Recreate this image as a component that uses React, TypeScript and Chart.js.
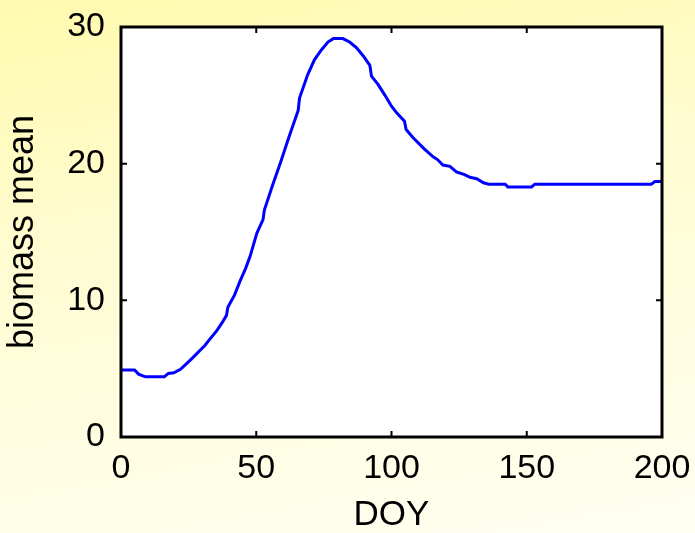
import React, { useEffect, useRef } from "react";
import { Chart, registerables } from "chart.js";

Chart.register(...registerables);

const DOY_VALUES = [0, 5, 6.5, 9, 16, 17.5, 19.5, 22, 26, 31, 33, 35.5, 37.5, 39, 39.5, 42, 44, 46, 47.7, 50.2, 52.5, 53, 56, 59, 62, 65.5, 66, 69, 71.5, 74, 76.5, 78.5, 82, 84.5, 87, 89.5, 92, 92.6, 95, 97.6, 100, 102, 104.8, 105.4, 108, 112, 115.4, 117, 119, 121.6, 124, 127, 129, 131.5, 134, 136, 142, 143, 151.8, 153, 196, 197.4, 200];
const BIOMASS_MEAN = [4.9, 4.9, 4.6, 4.4, 4.4, 4.65, 4.7, 4.95, 5.7, 6.7, 7.2, 7.8, 8.4, 8.9, 9.5, 10.4, 11.4, 12.3, 13.2, 14.9, 15.9, 16.6, 18.4, 20.1, 21.9, 23.9, 24.8, 26.5, 27.6, 28.3, 28.9, 29.15, 29.15, 28.9, 28.5, 27.9, 27.2, 26.4, 25.8, 25.0, 24.2, 23.7, 23.1, 22.5, 21.9, 21.1, 20.5, 20.3, 19.9, 19.8, 19.4, 19.2, 19.0, 18.9, 18.6, 18.5, 18.5, 18.3, 18.3, 18.5, 18.5, 18.7, 18.7];

const X_TICKS = [0, 50, 100, 150, 200];
const Y_TICKS = [0, 10, 20, 30];
const X_LABEL = "DOY";
const Y_LABEL = "biomass mean";

const FONT = "'Liberation Sans', Arial, Helvetica, sans-serif";

const framePlugin = {
  id: "frame",
  beforeDraw(chart: any) {
    const { ctx, chartArea: a } = chart;
    ctx.save();
    ctx.fillStyle = "#ffffff";
    ctx.fillRect(a.left, a.top, a.right - a.left, a.bottom - a.top);
    ctx.restore();
  },
  afterDraw(chart: any) {
    const { ctx, chartArea: a, scales } = chart;
    ctx.save();
    ctx.strokeStyle = "#000";
    ctx.lineWidth = 2;
    const L = 6;
    X_TICKS.forEach((v) => {
      const px = scales.x.getPixelForValue(v);
      ctx.beginPath();
      ctx.moveTo(px, a.bottom);
      ctx.lineTo(px, a.bottom - L);
      ctx.moveTo(px, a.top);
      ctx.lineTo(px, a.top + L);
      ctx.stroke();
    });
    Y_TICKS.forEach((v) => {
      const py = scales.y.getPixelForValue(v);
      ctx.beginPath();
      ctx.moveTo(a.left, py);
      ctx.lineTo(a.left + L, py);
      ctx.moveTo(a.right, py);
      ctx.lineTo(a.right - L, py);
      ctx.stroke();
    });
    ctx.lineWidth = 3;
    ctx.strokeRect(a.left, a.top, a.right - a.left, a.bottom - a.top);
    ctx.restore();
  },
};

const zeroPad = (s: any) => {
  s.paddingTop = 0;
  s.paddingBottom = 0;
  s.paddingLeft = 0;
  s.paddingRight = 0;
};

export default function App() {
  const ref = useRef<HTMLCanvasElement | null>(null);
  useEffect(() => {
    if (!ref.current) return;
    const chart = new Chart(ref.current, {
      type: "scatter",
      data: {
        datasets: [
          {
            data: DOY_VALUES.map((x, i) => ({ x, y: BIOMASS_MEAN[i] })),
            showLine: true,
            borderColor: "#0000ff",
            borderWidth: 3,
            pointRadius: 0,
            tension: 0,
            fill: false,
          },
        ],
      },
      options: {
        animation: false,
        responsive: false,
        devicePixelRatio: 1,
        layout: { padding: { top: 27, right: 33, left: 0, bottom: 0 } },
        plugins: { legend: { display: false }, tooltip: { enabled: false } },
        scales: {
          x: {
            type: "linear",
            min: 0,
            max: 200,
            afterBuildTicks: (s: any) => {
              s.ticks = X_TICKS.map((v) => ({ value: v }));
            },
            afterFit: (s: any) => {
              s.height = 96;
              zeroPad(s);
            },
            grid: { display: false, drawTicks: false },
            border: { display: false },
            ticks: {
              color: "#000",
              padding: 11,
              maxRotation: 0,
              font: { family: FONT, size: 34 },
            },
            title: {
              display: true,
              text: X_LABEL,
              color: "#000",
              padding: 0,
              font: { family: FONT, size: 35, lineHeight: 1 },
            },
          },
          y: {
            type: "linear",
            min: 0,
            max: 30,
            afterBuildTicks: (s: any) => {
              s.ticks = Y_TICKS.map((v) => ({ value: v }));
            },
            afterFit: (s: any) => {
              s.width = 121;
              zeroPad(s);
            },
            grid: { display: false, drawTicks: false },
            border: { display: false },
            ticks: {
              color: "#000",
              padding: 16,
              font: { family: FONT, size: 34 },
            },
            title: {
              display: true,
              text: Y_LABEL,
              color: "#000",
              padding: { top: 5, bottom: 0 },
              font: { family: FONT, size: 36, lineHeight: 1 },
            },
          },
        },
      },
      plugins: [framePlugin],
    } as any);
    return () => chart.destroy();
  }, []);

  return (
    <div
      style={{
        position: "fixed",
        left: 0,
        top: 0,
        width: 695,
        height: 533,
        background: "linear-gradient(170deg, #fffaae 0%, #fffcd2 40%, #fffff2 100%)",
      }}
    >
      <canvas ref={ref} width={695} height={533} style={{ display: "block", width: 695, height: 533 }} />
    </div>
  );
}
